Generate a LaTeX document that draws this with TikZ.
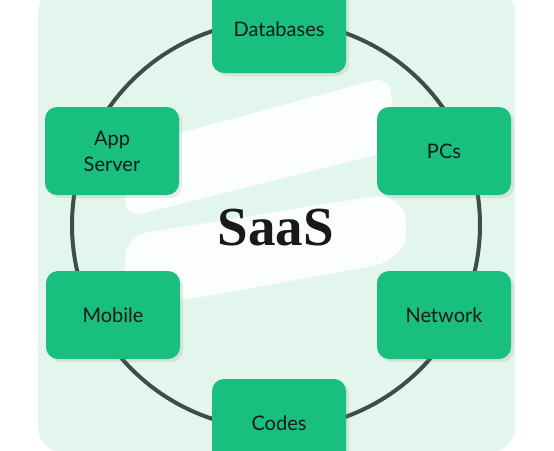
\documentclass[tikz,border=0pt]{standalone}
\usepackage{fontspec}
\setmainfont{Lato}
\newfontfamily\saasfont{Liberation Serif}
\usepackage{tikz}
\usetikzlibrary{shadows}
\definecolor{MintBack}{HTML}{E2F6EE}
\definecolor{BoxGreen}{HTML}{18BF7E}
\definecolor{RingGray}{HTML}{3E4E47}
\definecolor{LabelInk}{HTML}{141A17}

\begin{document}
\begin{tikzpicture}[x=1pt,y=-1pt,
  item/.style={fill=BoxGreen,rounded corners=12pt,minimum width=134pt,minimum height=88pt,
    font=\fontsize{20}{26}\selectfont,text=LabelInk,align=center,
    drop shadow={opacity=0.16,shadow xshift=3pt,shadow yshift=-3pt}},
  ring/.style={circle,draw=RingGray,line width=4pt,minimum size=408pt,inner sep=0pt}]
  \useasboundingbox (0,0) rectangle (554,450);
  \fill[MintBack,rounded corners=25pt] (38,-12) rectangle (515,452);
  % white swoosh behind the title
  \fill[white,opacity=0.9,rounded corners=18pt] (125,150) -- (180,133) -- (390,76)
    -- (395,150) -- (125,218) -- cycle;
  \fill[white,opacity=0.9,rounded corners=22pt] (125,236) -- (395,193) -- (412,228)
    -- (395,262) -- (185,300) -- (125,300) -- cycle;
  \node[ring] (ring) at (276,225) {};
  \node[item] (db) at (279,29) {Databases};
  \node[item] (app) at (112,151) {App\\Server};
  \node[item] (pc) at (444,151) {PCs};
  \node[item] (mob) at (113,315) {Mobile};
  \node[item] (net) at (444,315) {Network};
  \node[item] (code) at (279,423) {Codes};
  \node[font=\saasfont\bfseries\fontsize{55}{60}\selectfont,text=black!90] (saas) at (276,228) {SaaS};
\end{tikzpicture}
\end{document}
